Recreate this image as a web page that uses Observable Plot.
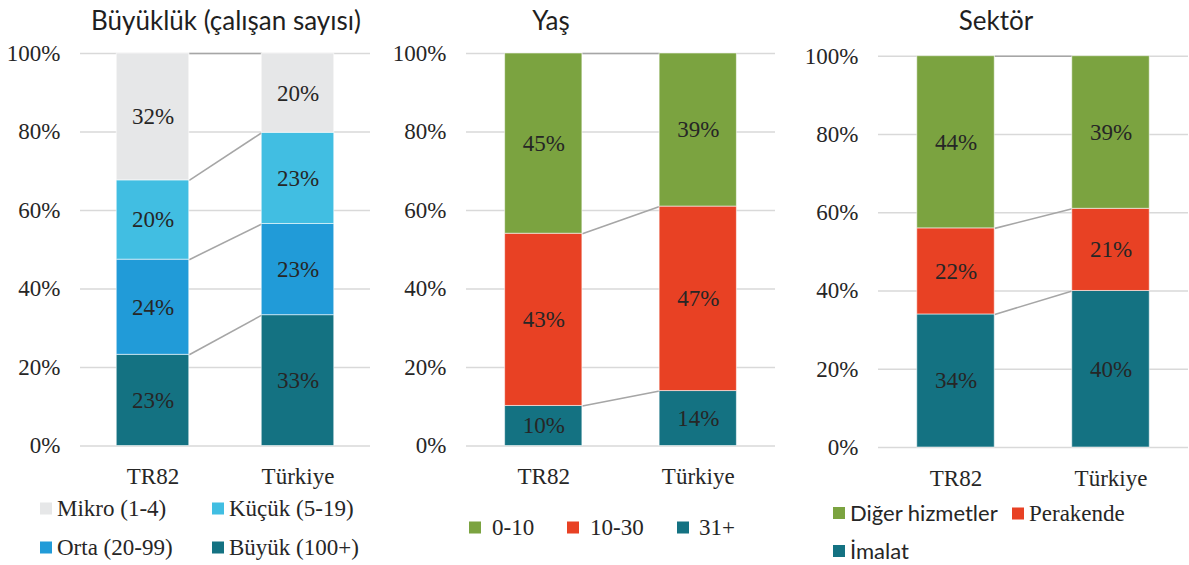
<!DOCTYPE html>
<html lang="tr">
<head>
<meta charset="utf-8">
<script src="https://cdn.jsdelivr.net/npm/d3@7"></script>
<script src="https://cdn.jsdelivr.net/npm/@observablehq/plot@0.6"></script>
<style>
  html, body { margin: 0; padding: 0; background: #fff; }
  #wrap { position: relative; width: 1189px; height: 565px; overflow: hidden; }
  .panel { position: absolute; top: 0; }
  .title { position: absolute; top: 7px; transform: translateX(-50%); white-space: nowrap;
           font-family: Lato, sans-serif; font-size: 26px; line-height: 1; color: #1f1f1f; }
  .item { position: absolute; display: flex; align-items: center; transform: translateY(-50%);
          white-space: nowrap; font-size: 23px; color: #262626; line-height: 1; }
  .swatch { width: 12px; height: 12px; flex: none; }
  .serif { font-family: "Liberation Serif", "Times New Roman", serif; }
  .sans { font-family: Lato, sans-serif; font-size: 22px; }
</style>
</head>
<body>
<div id="wrap"></div>
<script>
// Shared categories
const categories = ["TR82", "Türkiye"];
const yTicks = [0, 20, 40, 60, 80, 100];

// Büyüklük (çalışan sayısı) – stacked bottom to top
const sizeGroups = ["Büyük (100+)", "Orta (20-99)", "Küçük (5-19)", "Mikro (1-4)"];
const sizeTR82 = [23, 24, 20, 32];
const sizeTurkiye = [33, 23, 23, 20];
const sizeColors = ["#147282", "#219bd8", "#41bee2", "#e6e7e8"];

// Yaş
const ageGroups = ["31+", "10-30", "0-10"];
const ageTR82 = [10, 43, 45];
const ageTurkiye = [14, 47, 39];
const ageColors = ["#147282", "#e84124", "#7ba340"];

// Sektör
const sectorGroups = ["İmalat", "Perakende", "Diğer hizmetler"];
const sectorTR82 = [34, 22, 44];
const sectorTurkiye = [40, 21, 39];
const sectorColors = ["#147282", "#e84124", "#7ba340"];

const serif = "Liberation Serif, Times New Roman, serif";
const wrap = document.getElementById("wrap");

// Turn per-category value lists into stacked segments (shares normalised to 100%)
function stackRows(groups, seriesList) {
  const rows = [];
  seriesList.forEach((values, ci) => {
    const total = d3.sum(values);
    let cum = 0;
    values.forEach((v, gi) => {
      const y1 = cum / total * 100;
      cum += v;
      const y2 = cum / total * 100;
      rows.push({cat: categories[ci], x: ci + 0.5, group: groups[gi], value: v, y1, y2});
    });
  });
  return rows;
}

// Links joining the top of each segment across the two bars
function connectorRows(rows, groups) {
  return groups.map(g => {
    const a = rows.find(r => r.group === g && r.cat === categories[0]);
    const b = rows.find(r => r.group === g && r.cat === categories[1]);
    return {y1: a.y2, y2: b.y2, x1: a.x + 0.25, x2: b.x - 0.25};
  });
}

function panel({left, width, marginLeft, marginRight, marginTop, marginBottom, groups, series, colors}) {
  const rows = stackRows(groups, series);
  const links = connectorRows(rows, groups);
  const chart = Plot.plot({
    width, height: 500,
    marginLeft, marginRight, marginTop, marginBottom,
    style: {fontFamily: serif, fontSize: "23px", color: "#262626", background: "transparent"},
    x: {domain: [0, 2], axis: null},
    y: {domain: [0, 100], axis: null},
    color: {domain: groups, range: colors},
    marks: [
      Plot.ruleY(yTicks, {stroke: "#d9d9d9", strokeWidth: 1.6}),
      Plot.link(links, {x1: "x1", x2: "x2", y1: "y1", y2: "y2", stroke: "#a6a6a6", strokeWidth: 1.6}),
      Plot.rectY(rows, {
        x1: d => d.x - 0.25, x2: d => d.x + 0.25, y1: "y1", y2: "y2",
        fill: "group", stroke: "#ffffff", strokeOpacity: 0.55, strokeWidth: 1
      }),
      Plot.text(rows, {x: "x", y: d => (d.y1 + d.y2) / 2, text: d => d.value + "%",
        fontSize: 23, fontFamily: serif, fill: "#262626"}),
      Plot.axisY({ticks: yTicks, tickSize: 0, tickPadding: 20, tickFormat: d => d + "%", label: null,
        fontSize: 23, fontFamily: serif, fill: "#262626"}),
      Plot.axisX({ticks: [0.5, 1.5], tickSize: 0, tickPadding: 22, tickFormat: d => categories[Math.floor(d)], label: null,
        fontSize: 23, fontFamily: serif, fill: "#262626"})
    ]
  });
  chart.classList.add("panel");
  chart.style.left = left + "px";
  wrap.appendChild(chart);
}

panel({left: 0, width: 385, marginLeft: 80, marginRight: 15, marginTop: 53, marginBottom: 54.5,
       groups: sizeGroups, series: [sizeTR82, sizeTurkiye], colors: sizeColors});
panel({left: 385, width: 400, marginLeft: 81, marginRight: 10, marginTop: 53, marginBottom: 54.5,
       groups: ageGroups, series: [ageTR82, ageTurkiye], colors: ageColors});
panel({left: 785, width: 404, marginLeft: 93, marginRight: 1, marginTop: 55.7, marginBottom: 53,
       groups: sectorGroups, series: [sectorTR82, sectorTurkiye], colors: sectorColors});

// Panel titles
const titles = [
  {text: "Büyüklük (çalışan sayısı)", x: 226},
  {text: "Yaş", x: 551},
  {text: "Sektör", x: 996}
];
titles.forEach(t => {
  const el = document.createElement("div");
  el.className = "title";
  el.textContent = t.text;
  el.style.left = t.x + "px";
  wrap.appendChild(el);
});

// Legends
const legendItems = [
  {label: "Mikro (1-4)", color: sizeColors[3], x: 40, y: 508, gap: 5, font: "serif"},
  {label: "Küçük (5-19)", color: sizeColors[2], x: 212, y: 508, gap: 5, font: "serif"},
  {label: "Orta (20-99)", color: sizeColors[1], x: 40, y: 547, gap: 5, font: "serif"},
  {label: "Büyük (100+)", color: sizeColors[0], x: 212, y: 547, gap: 5, font: "serif"},
  {label: "0-10", color: ageColors[2], x: 469, y: 527, gap: 11, font: "serif"},
  {label: "10-30", color: ageColors[1], x: 567, y: 527, gap: 11, font: "serif"},
  {label: "31+", color: ageColors[0], x: 677, y: 527, gap: 10, font: "serif"},
  {label: "Diğer hizmetler", color: sectorColors[2], x: 833, y: 513, gap: 5, font: "sans"},
  {label: "Perakende", color: sectorColors[1], x: 1012, y: 513, gap: 5, font: "serif"},
  {label: "İmalat", color: sectorColors[0], x: 833, y: 551, gap: 5, font: "sans"}
];
legendItems.forEach(it => {
  const el = document.createElement("div");
  el.className = "item " + it.font;
  el.style.left = it.x + "px";
  el.style.top = it.y + "px";
  const sw = document.createElement("span");
  sw.className = "swatch";
  sw.style.background = it.color;
  sw.style.marginRight = it.gap + "px";
  const tx = document.createElement("span");
  tx.textContent = it.label;
  el.appendChild(sw);
  el.appendChild(tx);
  wrap.appendChild(el);
});
</script>
</body>
</html>
